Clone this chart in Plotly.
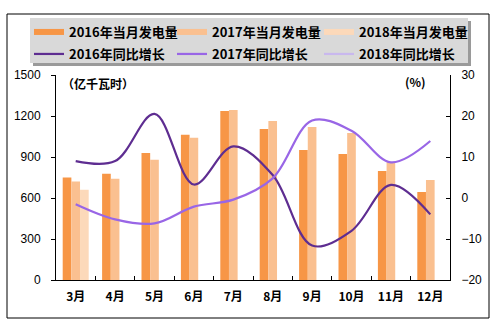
import plotly.graph_objects as go

# Monthly generation (亿千瓦时) and year-on-year growth (%)
months = ["3月", "4月", "5月", "6月", "7月", "8月", "9月", "10月", "11月", "12月"]
gen_2016 = [750, 778, 930, 1062, 1237, 1105, 951, 922, 798, 644]
gen_2017 = [720, 740, 880, 1040, 1244, 1163, 1119, 1075, 861, 732]
gen_2018 = [660, None, None, None, None, None, None, None, None, None]
yoy_2016 = [9.0, 9.0, 20.5, 3.3, 12.6, 5.6, -11.6, -8.0, 3.2, -4.0]
yoy_2017 = [-1.5, -5.2, -6.2, -2.1, -0.4, 4.8, 18.9, 16.4, 8.7, 13.9]
yoy_2018 = [None] * 10

bar_names = ["2016年当月发电量", "2017年当月发电量", "2018年当月发电量"]
line_names = ["2016年同比增长", "2017年同比增长", "2018年同比增长"]
bar_colors = ["#F79646", "#FAC090", "#FCD9BA"]
line_colors = ["#5E2D91", "#9966E6", "#C9B8EE"]

W, H = 498, 325
L, R, T, B = 56, 48, 75, 45
PW, PH = W - L - R, H - T - B


def px(x):
    return (x - L) / PW


def py(y):
    return (H - B - y) / PH


legend_font = dict(family="Noto Sans CJK SC", size=13, color="#000", weight="bold")
col_x = [29, 172, 319]
row_y = [17, 39]

fig = go.Figure()
legends = {}

for i, (name, vals, col) in enumerate(zip(bar_names, [gen_2016, gen_2017, gen_2018], bar_colors)):
    fig.add_trace(go.Bar(x=months, y=vals, name=name, marker_color=col,
                         marker_line_width=0, showlegend=False))
    key = "legend" if i == 0 else f"legend{i + 1}"
    # wide strip used as the legend key for each bar series
    fig.add_trace(go.Scatter(x=[None], y=[None], name=name, mode="lines",
                             line=dict(color=col, width=6), legend=key))
    legends[key] = dict(x=px(col_x[i]), y=py(row_y[0]))

for i, (name, vals, col) in enumerate(zip(line_names, [yoy_2016, yoy_2017, yoy_2018], line_colors)):
    key = f"legend{i + 4}"
    fig.add_trace(go.Scatter(x=months, y=vals, name=name, mode="lines", yaxis="y2",
                             line=dict(color=col, width=2.2, shape="spline", smoothing=1.0),
                             legend=key))
    legends[key] = dict(x=px(col_x[i]), y=py(row_y[1]))

for key, pos in legends.items():
    fig.update_layout({key: dict(orientation="h", x=pos["x"], y=pos["y"], xanchor="left",
                                 yanchor="top", bgcolor="rgba(0,0,0,0)", font=legend_font,
                                 itemclick=False, itemdoubleclick=False)})

tick_font = dict(family="Liberation Sans, Arial", size=12, color="#000")

fig.update_layout(
    width=W, height=H,
    margin=dict(l=L, r=R, t=T, b=B),
    paper_bgcolor="#fff", plot_bgcolor="#fff",
    barmode="group", bargap=0.34, bargroupgap=0,
    xaxis=dict(showline=True, linecolor="#000", linewidth=1,
               ticks="inside", ticklen=4, tickcolor="#000", tickson="boundaries",
               tickfont=dict(family="Noto Sans CJK SC", size=12, color="#000", weight="bold"),
               ticklabelstandoff=6, showgrid=False),
    yaxis=dict(range=[0, 1500], tickvals=[0, 300, 600, 900, 1200, 1500],
               showline=True, linecolor="#000", linewidth=1,
               ticks="outside", ticklen=4, tickcolor="#000",
               tickfont=tick_font, ticklabelstandoff=8, showgrid=False, zeroline=False),
    yaxis2=dict(range=[-20, 30], tickvals=[-20, -10, 0, 10, 20, 30], overlaying="y", side="right",
                showline=True, linecolor="#000", linewidth=1,
                ticks="inside", ticklen=4, tickcolor="#000",
                tickfont=tick_font, ticklabelstandoff=8, showgrid=False, zeroline=False),
    shapes=[
        # outer frame
        dict(type="rect", xref="paper", yref="paper", x0=px(7), x1=px(489), y0=py(318), y1=py(14),
             line=dict(color="#000", width=1), layer="below"),
        # legend box shadow and panel
        dict(type="rect", xref="paper", yref="paper", x0=px(33), x1=px(471), y0=py(66), y1=py(21),
             fillcolor="#9a9a9a", line=dict(width=0), layer="below"),
        dict(type="rect", xref="paper", yref="paper", x0=px(30), x1=px(468), y0=py(63), y1=py(18),
             fillcolor="#D9D9D9", line=dict(width=0), layer="below"),
    ],
    annotations=[
        dict(text="（亿千瓦时）", xref="paper", yref="paper", x=px(60), y=py(83),
             xanchor="left", yanchor="middle", showarrow=False,
             font=dict(family="Noto Sans CJK SC", size=12, color="#000", weight="bold")),
        dict(text="(%)", xref="paper", yref="paper", x=px(428), y=py(81),
             xanchor="right", yanchor="middle", showarrow=False,
             font=dict(family="Noto Sans CJK SC", size=12, color="#000", weight="bold")),
    ],
)

fig.write_html("out.html")
